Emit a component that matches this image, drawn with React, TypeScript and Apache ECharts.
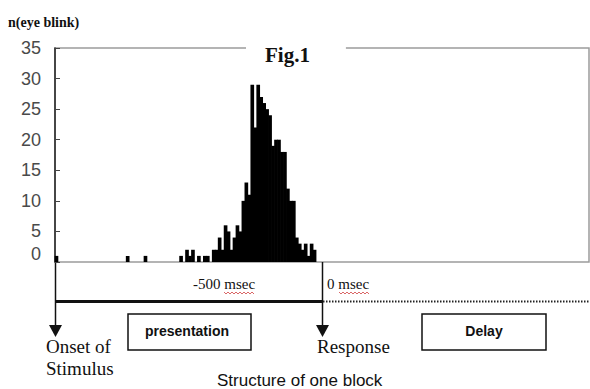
import React, { useEffect, useRef } from "react";
import * as echarts from "echarts";

// Histogram bins (180 bins from onset of stimulus; response at bin 90)
const binCount = 180;
const bins: string[] = Array.from({ length: binCount }, (_, i) => String(i));

// eye-blink counts per bin
const counts: number[] = [
  1, 0, 0, 0, 0, 0, 0, 0, 0, 0, 0, 0, 0, 0, 0, 0, 0, 0, 0, 0,
  0, 0, 0, 0, 1, 0, 0, 0, 0, 0, 1, 0, 0, 0, 0, 0, 0, 0, 0, 0,
  0, 0, 1, 0, 2, 1, 2, 0, 1, 0, 1, 1, 0, 2, 2, 4, 2, 6, 5, 2,
  4, 6, 5, 10, 13, 11, 29, 22, 29, 27, 26, 25, 24, 19, 20, 20, 18, 18, 12, 10,
  10, 4, 3, 2, 3, 1, 3, 2, 0, 0, 0, 0, 0, 0, 0, 0, 0, 0, 0, 0,
  0, 0, 0, 0, 0, 0, 0, 0, 0, 0, 0, 0, 0, 0, 0, 0, 0, 0, 0, 0,
  0, 0, 0, 0, 0, 0, 0, 0, 0, 0, 0, 0, 0, 0, 0, 0, 0, 0, 0, 0,
  0, 0, 0, 0, 0, 0, 0, 0, 0, 0, 0, 0, 0, 0, 0, 0, 0, 0, 0, 0,
  0, 0, 0, 0, 0, 0, 0, 0, 0, 0, 0, 0, 0, 0, 0, 0, 0, 0, 0, 0,
];

const yMin = 0;
const yMax = 35;
const yInterval = 5;

const titleText = "Fig.1";
const yAxisName = "n(eye blink)";
const timeLabels = ["-500 msec", "0 msec"];
const phaseLabels = ["presentation", "Delay"];
const eventLabels = ["Onset of", "Stimulus", "Response"];
const footer = "Structure of one block";

const serif = "'Liberation Serif', 'Times New Roman', serif";
const sans = "'Liberation Sans', Arial, sans-serif";

export default function App() {
  const ref = useRef<HTMLDivElement>(null);

  useEffect(() => {
    if (!ref.current) return;
    const chart = echarts.init(ref.current, undefined, { renderer: "svg" });

    const zig = (x0: number, x1: number, y: number) => {
      const pts: number[][] = [];
      let up = true;
      for (let x = x0; x <= x1; x += 2) {
        pts.push([x, up ? y - 1 : y + 1]);
        up = !up;
      }
      return pts;
    };

    const txt = (
      text: string,
      x: number,
      y: number,
      font: string,
      align: string = "left"
    ) => ({
      type: "text",
      x,
      y,
      style: {
        text,
        font,
        fill: "#111",
        textAlign: align,
        textVerticalAlign: "middle",
      },
    });

    chart.setOption({
      animation: false,
      backgroundColor: "#fff",
      title: {
        text: titleText,
        left: 246,
        top: 43,
        padding: [1, 36, 1, 19],
        backgroundColor: "#fff",
        textStyle: {
          fontFamily: serif,
          fontWeight: "bold",
          fontSize: 21,
          color: "#111",
        },
      },
      grid: {
        left: 55,
        right: 1,
        top: 48,
        bottom: 127,
        show: true,
        borderColor: "#9c9c9c",
        borderWidth: 1.5,
        backgroundColor: "transparent",
      },
      xAxis: {
        type: "category",
        data: bins,
        boundaryGap: true,
        axisLine: { show: false },
        axisTick: { show: false },
        axisLabel: { show: false },
        splitLine: { show: false },
      },
      yAxis: {
        type: "value",
        min: yMin,
        max: yMax,
        interval: yInterval,
        axisLine: { show: true, lineStyle: { color: "#222", width: 1.5 } },
        axisTick: {
          show: true,
          inside: true,
          length: 5,
          lineStyle: { color: "#444", width: 1 },
        },
        splitLine: { show: false },
        axisLabel: {
          margin: 14,
          color: "#4a4a4a",
          fontSize: 18,
          fontFamily: sans,
          formatter: (v: number) => (v === 0 ? "{z|0}" : String(v)),
          rich: {
            z: {
              fontSize: 18,
              fontFamily: sans,
              color: "#4a4a4a",
              padding: [0, 0, 16, 0],
            },
          },
        },
      },
      series: [
        {
          type: "custom",
          data: counts.map((c, i) => [i, c]),
          encode: { x: 0, y: 1 },
          renderItem: (params: any, api: any) => {
            const idx = api.value(0);
            const v = api.value(1);
            if (!v) return null;
            const base = api.coord([idx, 0]);
            const top = api.coord([idx, v]);
            const w = api.size([1, 0])[0];
            return {
              type: "rect",
              shape: {
                x: base[0] - w / 2 - 0.35,
                y: top[1],
                width: w + 0.7,
                height: base[1] - top[1],
              },
              style: { fill: "#000" },
            };
          },
        },
      ],
      graphic: [
        txt(yAxisName, 8, 22, `bold 14px ${serif}`),
        txt(timeLabels[0], 193, 284, `15px ${serif}`),
        txt(timeLabels[1], 327, 284, `15px ${serif}`),
        {
          type: "polyline",
          shape: { points: zig(224, 255, 293) },
          style: { stroke: "#d04040", lineWidth: 0.8, fill: null },
        },
        {
          type: "polyline",
          shape: { points: zig(339, 370, 293) },
          style: { stroke: "#d04040", lineWidth: 0.8, fill: null },
        },
        // vertical arrows
        {
          type: "line",
          shape: { x1: 55.5, y1: 262, x2: 55.5, y2: 326 },
          style: { stroke: "#111", lineWidth: 1.5 },
        },
        {
          type: "polygon",
          shape: { points: [[49, 325], [62, 325], [55.5, 337]] },
          style: { fill: "#111" },
        },
        {
          type: "line",
          shape: { x1: 322.5, y1: 262, x2: 322.5, y2: 326 },
          style: { stroke: "#111", lineWidth: 1.5 },
        },
        {
          type: "polygon",
          shape: { points: [[316, 325], [329, 325], [322.5, 337]] },
          style: { fill: "#111" },
        },
        // time line
        {
          type: "line",
          shape: { x1: 55, y1: 301.5, x2: 323, y2: 301.5 },
          style: { stroke: "#111", lineWidth: 3 },
        },
        {
          type: "line",
          shape: { x1: 323, y1: 301.5, x2: 590, y2: 301.5 },
          style: { stroke: "#222", lineWidth: 2, lineDash: [1.5, 1.5] },
        },
        // phase boxes
        {
          type: "rect",
          shape: { x: 128, y: 314, width: 123, height: 36 },
          style: { fill: "#fff", stroke: "#111", lineWidth: 1.5 },
        },
        txt(phaseLabels[0], 187, 331, `bold 14px ${sans}`, "center"),
        {
          type: "rect",
          shape: { x: 422, y: 314, width: 124, height: 36 },
          style: { fill: "#fff", stroke: "#111", lineWidth: 1.5 },
        },
        txt(phaseLabels[1], 484, 331, `bold 14px ${sans}`, "center"),
        // event labels
        txt(eventLabels[0], 46, 346, `19px ${serif}`),
        txt(eventLabels[1], 46, 368, `19px ${serif}`),
        txt(eventLabels[2], 317, 346, `19px ${serif}`),
        // footer
        txt(footer, 217, 380, `17px ${sans}`),
      ],
    });

    return () => chart.dispose();
  }, []);

  return (
    <div
      ref={ref}
      style={{ position: "fixed", left: 0, top: 0, width: 590, height: 389 }}
    />
  );
}
